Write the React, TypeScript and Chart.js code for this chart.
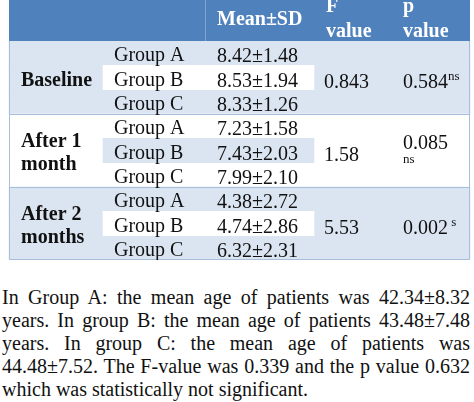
import React, { useEffect, useRef } from 'react';
import { Chart, registerables } from 'chart.js';

Chart.register(...registerables);

// ---- data ----
const sectionLabels = [['Baseline'], ['After 1', 'month'], ['After 2', 'months']];
const groups = ['Group A', 'Group B', 'Group C'];
const means = [8.42, 8.53, 8.33, 7.23, 7.43, 7.99, 4.38, 4.74, 6.32];
const sds = [1.48, 1.94, 1.26, 1.58, 2.03, 2.1, 2.72, 2.86, 2.31];
const fValues = [0.843, 1.58, 5.53];
const pValues = [0.584, 0.085, 0.002];
const pSig = ['ns', 'ns', 's'];
const headerLabels = ['Mean±SD', ['F', 'value'], ['p', 'value']];
const noteLines = [
  'In Group A: the mean age of patients was 42.34±8.32',
  'years. In group B: the mean age of patients 43.48±7.48',
  'years. In group C: the mean age of patients was',
  '44.48±7.52. The F-value was 0.339 and the p value 0.632',
  'which was statistically not significant.',
];

const rowLabels = sectionLabels.flatMap(() => groups);

// ---- layout / style ----
const FONT = '"Liberation Serif", "Times New Roman", serif';
const W = 474;
const COL = [9, 103, 205, 314, 392, 470];
const TEXT_X = [21, 114, 217, 324, 403];
const HEADER_TICKS = [217, 326, 403];
const HEADER_H = 41;
const HEADER_BLUE = '#4f81bd';
const LIGHT = '#dbe5f1';
const WHITE = '#ffffff';
const BORDER = '#a9bedb';
const INK = '#111111';
const pWrap = [false, true, false];
const pGap = ['', '', ' '];

const sectionOf = (i: number) => Math.floor(i / groups.length);

const tablePlugin = {
  id: 'tablePlugin',
  beforeDraw(chart: any) {
    const { ctx, chartArea, scales } = chart;
    const x = scales.x;
    const l = x.getPixelForValue(COL[0]);
    const r = x.getPixelForValue(COL[5]);
    ctx.save();
    ctx.fillStyle = HEADER_BLUE;
    ctx.fillRect(l, 0, r - l, chartArea.top);
    const dx = Math.round(x.getPixelForValue(COL[2])) + 0.5;
    ctx.strokeStyle = 'rgba(255,255,255,0.28)';
    ctx.lineWidth = 1;
    ctx.beginPath();
    ctx.moveTo(dx, 0);
    ctx.lineTo(dx, chartArea.top);
    ctx.stroke();
    ctx.restore();
  },
  afterDatasetsDraw(chart: any) {
    const { ctx, chartArea, scales } = chart;
    const x = scales.x;
    const y = scales.y;
    const step = y.getPixelForValue(1) - y.getPixelForValue(0);
    const l = x.getPixelForValue(COL[0]);
    const r = x.getPixelForValue(COL[5]);
    ctx.save();
    // section separators
    ctx.strokeStyle = BORDER;
    ctx.lineWidth = 1;
    for (let s = 1; s < sectionLabels.length; s++) {
      const yy = Math.round(y.getPixelForValue(s * groups.length) - step / 2) + 0.5;
      ctx.beginPath();
      ctx.moveTo(l, yy);
      ctx.lineTo(r, yy);
      ctx.stroke();
    }
    // outer border (below header)
    const bottom = Math.round(y.getPixelForValue(rowLabels.length - 1) + step / 2) - 0.5;
    ctx.beginPath();
    ctx.moveTo(Math.round(l) + 0.5, chartArea.top);
    ctx.lineTo(Math.round(l) + 0.5, bottom);
    ctx.lineTo(Math.round(r) - 0.5, bottom);
    ctx.lineTo(Math.round(r) - 0.5, chartArea.top);
    ctx.stroke();

    // cell texts
    ctx.fillStyle = INK;
    ctx.textAlign = 'left';
    ctx.textBaseline = 'alphabetic';
    ctx.font = `20px ${FONT}`;
    means.forEach((m, i) => {
      const cy = y.getPixelForValue(i);
      ctx.fillText(`${m.toFixed(2)}±${sds[i].toFixed(2)}`, x.getPixelForValue(TEXT_X[2]), cy + 9);
    });
    fValues.forEach((f, s) => {
      const cy = y.getPixelForValue(s * groups.length + 1);
      ctx.font = `20px ${FONT}`;
      ctx.fillText(String(f), x.getPixelForValue(TEXT_X[3]), cy + 10);
      const px = x.getPixelForValue(TEXT_X[4]);
      const main = pValues[s].toFixed(3);
      if (pWrap[s]) {
        ctx.fillText(main, px, cy - 2);
        ctx.font = `13px ${FONT}`;
        ctx.fillText(pSig[s], px, cy + 12);
      } else {
        ctx.fillText(main, px, cy + 10);
        const w = ctx.measureText(main).width;
        ctx.font = `13px ${FONT}`;
        ctx.fillText(pGap[s] + pSig[s], px + w, cy + 2);
      }
    });
    ctx.restore();
  },
};

const zeroPad = (s: any) => {
  s.paddingTop = 0;
  s.paddingBottom = 0;
  s.paddingLeft = 0;
  s.paddingRight = 0;
};

export default function App() {
  const ref = useRef<HTMLCanvasElement>(null);
  useEffect(() => {
    const chart = new Chart(ref.current as HTMLCanvasElement, {
      type: 'bar',
      data: {
        labels: rowLabels,
        datasets: [
          {
            label: 'highlight',
            order: 1,
            data: rowLabels.map((g) => (g === groups[1] ? [COL[1], COL[3]] : null)) as any,
            backgroundColor: rowLabels.map((_, i) => (sectionOf(i) % 2 === 0 ? WHITE : LIGHT)),
          },
          {
            label: 'rows',
            order: 2,
            data: rowLabels.map(() => [COL[0], COL[5]]) as any,
            backgroundColor: rowLabels.map((_, i) => (sectionOf(i) % 2 === 0 ? LIGHT : WHITE)),
          },
        ],
      },
      options: {
        responsive: true,
        maintainAspectRatio: false,
        animation: false,
        indexAxis: 'y',
        events: [],
        layout: { padding: 0 },
        datasets: {
          bar: { barPercentage: 1, categoryPercentage: 1, grouped: false, borderWidth: 0 },
        } as any,
        plugins: {
          legend: { display: false },
          tooltip: { enabled: false },
          title: { display: false },
        },
        scales: {
          x: {
            type: 'linear',
            position: 'top',
            min: 0,
            max: W,
            grid: { display: false, drawTicks: false, tickLength: 0 },
            border: { display: false },
            afterBuildTicks: (s: any) => {
              s.ticks = HEADER_TICKS.map((v) => ({ value: v }));
            },
            afterFit: (s: any) => {
              s.height = HEADER_H;
              zeroPad(s);
            },
            ticks: {
              autoSkip: false,
              maxRotation: 0,
              minRotation: 0,
              align: 'start',
              crossAlign: 'center',
              padding: 9,
              color: '#ffffff',
              font: { family: FONT, size: 20, weight: 'bold', lineHeight: 1.25 },
              callback: (_v: any, i: number) => headerLabels[i] as any,
            },
          },
          y: {
            type: 'category',
            position: 'left',
            offset: true,
            grid: { display: false, drawTicks: false },
            border: { display: false },
            afterFit: (s: any) => {
              s.width = 0;
              zeroPad(s);
            },
            ticks: {
              z: 1,
              mirror: true,
              padding: TEXT_X[1],
              labelOffset: 3,
              autoSkip: false,
              color: INK,
              font: { family: FONT, size: 20 },
            },
          },
          sec: {
            type: 'category',
            position: 'left',
            labels: sectionLabels as any,
            offset: true,
            grid: { display: false, drawTicks: false },
            border: { display: false },
            afterFit: (s: any) => {
              s.width = 0;
              zeroPad(s);
            },
            ticks: {
              z: 1,
              mirror: true,
              padding: TEXT_X[0],
              labelOffset: 3,
              autoSkip: false,
              color: INK,
              font: { family: FONT, size: 20, weight: 'bold', lineHeight: 1.15 },
            },
          },
        } as any,
      },
      plugins: [tablePlugin],
    });
    return () => chart.destroy();
  }, []);

  return (
    <div style={{ width: W, fontFamily: FONT }}>
      <style>{'body{margin:0}'}</style>
      <div style={{ position: 'relative', width: W, height: 260 }}>
        <canvas ref={ref} />
      </div>
      <div style={{ marginTop: 26, padding: '0 4px 0 2px', fontSize: 20, lineHeight: '23.1px', color: INK }}>
        {noteLines.map((line, i) => (
          <div
            key={i}
            style={{
              textAlign: i < noteLines.length - 1 ? 'justify' : 'left',
              textAlignLast: i < noteLines.length - 1 ? 'justify' : 'left',
              whiteSpace: 'nowrap',
            } as any}
          >
            {line}
          </div>
        ))}
      </div>
    </div>
  );
}
